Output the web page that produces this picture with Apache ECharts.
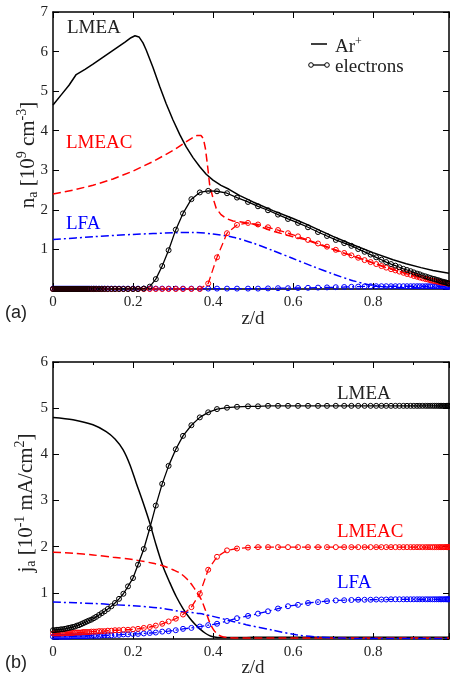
<!DOCTYPE html>
<html>
<head>
<meta charset="utf-8">
<script src="https://cdn.jsdelivr.net/npm/echarts@6/dist/echarts.min.js"></script>
<style>html,body{margin:0;padding:0;background:#fff;}#c{width:450px;height:677px;}</style>
</head>
<body>
<div id="c"></div>
<script>
// ---------- DATA ----------
// x tick labels
const xTicks = ['0', '0.2', '0.4', '0.6', '0.8'];
const yTicksTop = ['1', '2', '3', '4', '5', '6', '7'];
const yTicksBot = ['1', '2', '3', '4', '5', '6'];

// mesh points where electron values are marked (z/d)
const gridZ = [0, 0.005, 0.01, 0.015, 0.02, 0.025, 0.03, 0.035, 0.04, 0.045,
  0.05, 0.055, 0.06, 0.065, 0.07, 0.075, 0.08, 0.085, 0.09, 0.096,
  0.102, 0.108, 0.115, 0.122, 0.129, 0.137, 0.146, 0.155, 0.165, 0.176,
  0.1875, 0.2, 0.2125, 0.227, 0.242, 0.257, 0.273, 0.289, 0.307, 0.325,
  0.346, 0.367, 0.388, 0.41, 0.435, 0.46, 0.4875, 0.5125, 0.5375, 0.5625,
  0.5875, 0.6125, 0.6375, 0.6625, 0.685, 0.707, 0.728, 0.746, 0.763, 0.779,
  0.794, 0.808, 0.821, 0.833, 0.845, 0.856, 0.866, 0.876, 0.885, 0.894,
  0.902, 0.91, 0.917, 0.924, 0.931, 0.937, 0.943, 0.949, 0.954, 0.959,
  0.964, 0.968, 0.972, 0.976, 0.98, 0.983, 0.986, 0.988, 0.99];

// (a) electron densities [1e9 cm^-3]
const neLMEA = [0, 0, 0, 0, 0, 0, 0, 0, 0, 0,
  0, 0, 0, 0, 0, 0, 0, 0, 0, 0,
  0, 0, 0, 0, 0, 0, 0, 0, 0, 0,
  0, 0, 0, 0.01, 0.06, 0.25, 0.58, 0.98, 1.5, 1.91,
  2.27, 2.44, 2.48, 2.47, 2.42, 2.31, 2.2, 2.09, 1.99, 1.88,
  1.77, 1.67, 1.56, 1.44, 1.34, 1.24, 1.16, 1.09, 1.01, 0.94,
  0.87, 0.8, 0.74, 0.68, 0.63, 0.59, 0.55, 0.51, 0.48, 0.45,
  0.42, 0.39, 0.37, 0.34, 0.32, 0.3, 0.28, 0.26, 0.25, 0.23,
  0.22, 0.2, 0.19, 0.18, 0.17, 0.16, 0.15, 0.14, 0.14];
const neLMEAC = [0, 0, 0, 0, 0, 0, 0, 0, 0, 0,
  0, 0, 0, 0, 0, 0, 0, 0, 0, 0,
  0, 0, 0, 0, 0, 0, 0, 0, 0, 0,
  0, 0, 0, 0, 0, 0, 0, 0, 0, 0,
  0, 0, 0.14, 0.8, 1.41, 1.62, 1.67, 1.63, 1.56, 1.49,
  1.41, 1.33, 1.24, 1.15, 1.07, 0.99, 0.91, 0.85, 0.79, 0.73,
  0.68, 0.63, 0.58, 0.54, 0.5, 0.47, 0.44, 0.41, 0.38, 0.36,
  0.33, 0.31, 0.29, 0.27, 0.25, 0.24, 0.22, 0.21, 0.2, 0.19,
  0.18, 0.17, 0.16, 0.16, 0.15, 0.15, 0.14, 0.14, 0.14];
const neLFA = [0.01, 0.01, 0.01, 0.01, 0.01, 0.01, 0.01, 0.01, 0.01, 0.01,
  0.01, 0.01, 0.01, 0.01, 0.01, 0.01, 0.01, 0.01, 0.01, 0.01,
  0.01, 0.01, 0.01, 0.01, 0.01, 0.01, 0.01, 0.01, 0.01, 0.01,
  0.01, 0.01, 0.01, 0.01, 0.01, 0.01, 0.01, 0.01, 0.01, 0.01,
  0.01, 0.01, 0.01, 0.01, 0.01, 0.01, 0.01, 0.01, 0.015, 0.02,
  0.02, 0.025, 0.03, 0.035, 0.04, 0.045, 0.05, 0.055, 0.06, 0.065,
  0.07, 0.07, 0.07, 0.07, 0.07, 0.07, 0.07, 0.07, 0.07, 0.07,
  0.07, 0.07, 0.07, 0.07, 0.07, 0.07, 0.07, 0.07, 0.07, 0.07,
  0.07, 0.07, 0.065, 0.065, 0.06, 0.06, 0.06, 0.06, 0.06];

// (a) Ar+ densities [1e9 cm^-3]
const zArLMEA = [0, 0.02, 0.04, 0.058, 0.08, 0.1, 0.12, 0.14, 0.16, 0.18, 0.195, 0.205, 0.215, 0.225, 0.233, 0.25, 0.267, 0.283, 0.3, 0.317, 0.333, 0.35, 0.367, 0.383, 0.4, 0.42, 0.44, 0.467, 0.5, 0.55, 0.6, 0.633, 0.667, 0.7, 0.742, 0.8, 0.85, 0.883, 0.92, 0.95, 0.99];
const nArLMEA = [4.65, 4.9, 5.15, 5.42, 5.55, 5.68, 5.82, 5.96, 6.1, 6.24, 6.35, 6.4, 6.37, 6.22, 6.04, 5.6, 5.11, 4.68, 4.27, 3.9, 3.59, 3.32, 3.09, 2.9, 2.75, 2.62, 2.52, 2.36, 2.2, 1.98, 1.78, 1.64, 1.48, 1.33, 1.15, 0.92, 0.74, 0.64, 0.54, 0.47, 0.4];
const zArLMEAC = [0, 0.05, 0.1, 0.15, 0.2, 0.25, 0.3, 0.33, 0.35, 0.36, 0.37, 0.376, 0.381, 0.386, 0.392, 0.4, 0.408, 0.42, 0.433, 0.45, 0.467, 0.5, 0.55, 0.6, 0.633, 0.667, 0.717, 0.742, 0.8, 0.867, 0.92, 0.95, 0.99];
const nArLMEAC = [2.4, 2.5, 2.62, 2.78, 2.98, 3.22, 3.5, 3.7, 3.83, 3.88, 3.88, 3.8, 3.55, 3.15, 2.6, 2.3, 2.04, 1.88, 1.78, 1.72, 1.7, 1.64, 1.46, 1.32, 1.24, 1.12, 0.94, 0.86, 0.66, 0.44, 0.28, 0.2, 0.1];
const zArLFA = [0, 0.1, 0.2, 0.3, 0.35, 0.4, 0.45, 0.5, 0.55, 0.6, 0.65, 0.7, 0.75, 0.8, 0.85, 0.9, 0.99];
const nArLFA = [1.25, 1.32, 1.38, 1.42, 1.43, 1.39, 1.31, 1.16, 0.97, 0.77, 0.57, 0.38, 0.21, 0.09, 0.04, 0.03, 0.02];

// (b) electron current densities [1e-1 mA/cm^2]
const jeLMEA = [0.19, 0.19, 0.2, 0.2, 0.21, 0.21, 0.22, 0.23, 0.24, 0.25,
  0.26, 0.27, 0.29, 0.3, 0.32, 0.34, 0.36, 0.38, 0.4, 0.42,
  0.45, 0.48, 0.52, 0.56, 0.6, 0.65, 0.71, 0.78, 0.87, 0.98,
  1.14, 1.32, 1.61, 1.95, 2.4, 2.89, 3.36, 3.75, 4.11, 4.4,
  4.63, 4.8, 4.91, 4.98, 5.01, 5.03, 5.04, 5.04, 5.05, 5.05,
  5.05, 5.05, 5.05, 5.05, 5.05, 5.05, 5.05, 5.05, 5.05, 5.05,
  5.05, 5.05, 5.05, 5.05, 5.05, 5.05, 5.05, 5.05, 5.05, 5.05,
  5.05, 5.05, 5.05, 5.05, 5.05, 5.05, 5.05, 5.05, 5.05, 5.05,
  5.05, 5.05, 5.05, 5.05, 5.05, 5.05, 5.05, 5.05, 5.05];
const jeLMEAC = [0.12, 0.12, 0.12, 0.12, 0.12, 0.12, 0.13, 0.13, 0.13, 0.13,
  0.13, 0.14, 0.14, 0.14, 0.14, 0.15, 0.15, 0.15, 0.15, 0.16,
  0.16, 0.16, 0.17, 0.17, 0.17, 0.18, 0.18, 0.19, 0.19, 0.2,
  0.2, 0.21, 0.22, 0.24, 0.26, 0.29, 0.33, 0.38, 0.44, 0.53,
  0.69, 0.98, 1.5, 1.78, 1.92, 1.96, 1.98, 1.99, 1.99, 1.99,
  1.99, 1.99, 1.99, 1.99, 1.99, 1.99, 1.99, 1.99, 1.99, 1.99,
  1.99, 1.99, 1.99, 1.99, 1.99, 1.99, 1.99, 1.99, 1.99, 1.99,
  1.99, 1.99, 1.99, 1.99, 1.99, 1.99, 1.99, 1.99, 1.99, 1.99,
  1.99, 1.99, 1.99, 1.99, 1.99, 1.99, 1.99, 1.99, 1.99];
const jeLFA = [0.05, 0.05, 0.05, 0.05, 0.05, 0.05, 0.05, 0.05, 0.05, 0.06,
  0.06, 0.06, 0.06, 0.06, 0.06, 0.06, 0.06, 0.06, 0.07, 0.07,
  0.07, 0.07, 0.07, 0.08, 0.08, 0.08, 0.08, 0.09, 0.09, 0.1,
  0.1, 0.11, 0.11, 0.12, 0.13, 0.14, 0.16, 0.17, 0.19, 0.22,
  0.24, 0.27, 0.3, 0.33, 0.39, 0.45, 0.5, 0.55, 0.6, 0.66,
  0.71, 0.74, 0.78, 0.8, 0.82, 0.835, 0.84, 0.845, 0.85, 0.85,
  0.85, 0.855, 0.855, 0.855, 0.86, 0.86, 0.86, 0.86, 0.86, 0.86,
  0.86, 0.86, 0.86, 0.86, 0.86, 0.86, 0.86, 0.86, 0.86, 0.86,
  0.86, 0.86, 0.86, 0.86, 0.86, 0.86, 0.86, 0.86, 0.86];

// (b) Ar+ current densities [1e-1 mA/cm^2]
const zjArLMEA = [0, 0.05, 0.1, 0.133, 0.155, 0.175, 0.192, 0.208, 0.225, 0.242, 0.258, 0.275, 0.292, 0.308, 0.325, 0.342, 0.355, 0.367, 0.38, 0.39, 0.4, 0.42, 0.45, 0.5, 0.6, 0.8, 0.99];
const jArLMEA = [4.8, 4.75, 4.64, 4.49, 4.33, 4.1, 3.78, 3.38, 2.96, 2.51, 2.03, 1.57, 1.22, 0.92, 0.66, 0.45, 0.32, 0.22, 0.13, 0.08, 0.05, 0.03, 0.03, 0.04, 0.04, 0.04, 0.04];
const zjArLMEAC = [0, 0.05, 0.1, 0.15, 0.2, 0.25, 0.28, 0.3, 0.317, 0.335, 0.35, 0.362, 0.371, 0.38, 0.392, 0.4, 0.408, 0.42, 0.44, 0.5, 0.99];
const jArLMEAC = [1.88, 1.86, 1.82, 1.77, 1.72, 1.64, 1.57, 1.5, 1.43, 1.3, 1.14, 0.98, 0.85, 0.65, 0.35, 0.22, 0.13, 0.06, 0.03, 0.02, 0.02];
const zjArLFA = [0, 0.1, 0.158, 0.2, 0.267, 0.317, 0.367, 0.4, 0.45, 0.483, 0.55, 0.608, 0.667, 0.72, 0.76, 0.99];
const jArLFA = [0.8, 0.77, 0.74, 0.72, 0.67, 0.6, 0.55, 0.49, 0.38, 0.31, 0.19, 0.09, 0.04, 0.02, 0.01, 0.01];

// ---------- CHART ----------
const SERIF = 'Liberation Serif';
const INK = '#222222';
const BLACK = '#000000', RED = '#ff0000', BLUE = '#0000ff';
const DASH = [8, 4];
const DASHDOT = [8, 3, 2, 3];

function pairs(xs, ys) { return xs.map((x, i) => [x, ys[i]]); }

const chart = echarts.init(document.getElementById('c'), null, {renderer: 'canvas'});

function xAxisDef(gi, pos) {
  const bottom = pos === 'bottom';
  return {
    type: 'value', gridIndex: gi, position: pos, min: 0, max: 0.99, interval: 0.2,
    axisLine: {show: true, onZero: false, lineStyle: {color: '#000', width: 1.5}},
    axisTick: {show: true, inside: true, length: 6, lineStyle: {color: '#000', width: 1}},
    minorTick: {show: true, splitNumber: 2, length: 3, lineStyle: {color: '#000', width: 1}},
    splitLine: {show: false},
    axisLabel: {
      show: bottom, showMaxLabel: false, margin: 6, color: INK, fontFamily: SERIF, fontSize: 15,
      formatter: v => { const i = Math.round(v / 0.2); return (Math.abs(v - i * 0.2) < 1e-6 && i < xTicks.length) ? xTicks[i] : ''; }
    }
  };
}
function yAxisDef(gi, pos, maxV, labels) {
  const left = pos === 'left';
  return {
    type: 'value', gridIndex: gi, position: pos, min: 0, max: maxV, interval: 1,
    axisLine: {show: true, onZero: false, lineStyle: {color: '#000', width: 1.5}},
    axisTick: {show: true, inside: true, length: 6, lineStyle: {color: '#000', width: 1}},
    splitLine: {show: false},
    axisLabel: {
      show: left, margin: 5, color: INK, fontFamily: SERIF, fontSize: 15,
      formatter: v => (v >= 1 && v <= labels.length) ? labels[v - 1] : ''
    }
  };
}

function lineSeries(name, xi, yi, data, color, type, smooth) {
  return {name: name, type: 'line', xAxisIndex: xi, yAxisIndex: yi, data: data, symbol: 'none',
    smooth: smooth || false,
    lineStyle: {color: color, width: 1.5, type: type}, silent: true, animation: false, z: 3};
}
function markSeries(name, xi, yi, data, color, type) {
  return {name: name, type: 'line', xAxisIndex: xi, yAxisIndex: yi, data: data,
    symbol: 'circle', symbolSize: 5, showSymbol: true, showAllSymbol: true,
    itemStyle: {color: 'rgba(255,255,255,0)', borderColor: color, borderWidth: 1},
    lineStyle: {color: color, width: 1.3, type: type}, silent: true, animation: false, z: 4};
}

const rich = {
  b: {fontFamily: SERIF, fontSize: 21, lineHeight: 25, verticalAlign: 'middle', fill: INK},
  sub: {fontFamily: SERIF, fontSize: 14, lineHeight: 14, verticalAlign: 'bottom', fill: INK},
  sup: {fontFamily: SERIF, fontSize: 14, lineHeight: 14, verticalAlign: 'top', fill: INK}
};

function label(text, x, y, color) {
  return {type: 'text', x: x, y: y, silent: true,
    style: {text: text, fill: color, font: '19px "Liberation Serif"', textAlign: 'left', textVerticalAlign: 'middle'}};
}

const option = {
  backgroundColor: '#ffffff',
  animation: false,
  grid: [
    {left: 53, top: 12, width: 396, height: 277},
    {left: 53, top: 362, width: 396, height: 277}
  ],
  xAxis: [xAxisDef(0, 'bottom'), xAxisDef(0, 'top'), xAxisDef(1, 'bottom'), xAxisDef(1, 'top')],
  yAxis: [yAxisDef(0, 'left', 7, yTicksTop), yAxisDef(0, 'right', 7, yTicksTop),
          yAxisDef(1, 'left', 6, yTicksBot), yAxisDef(1, 'right', 6, yTicksBot)],
  series: [
    // (a)
    lineSeries('aArLMEA', 0, 0, pairs(zArLMEA, nArLMEA), BLACK, 'solid'),
    lineSeries('aArLMEAC', 0, 0, pairs(zArLMEAC, nArLMEAC), RED, DASH),
    lineSeries('aArLFA', 0, 0, pairs(zArLFA, nArLFA), BLUE, DASHDOT, 0.3),
    markSeries('aeLFA', 0, 0, pairs(gridZ, neLFA), BLUE, DASHDOT),
    markSeries('aeLMEAC', 0, 0, pairs(gridZ, neLMEAC), RED, DASH),
    markSeries('aeLMEA', 0, 0, pairs(gridZ, neLMEA), BLACK, 'solid'),
    // (b)
    lineSeries('bArLMEA', 2, 2, pairs(zjArLMEA, jArLMEA), BLACK, 'solid', 0.3),
    lineSeries('bArLMEAC', 2, 2, pairs(zjArLMEAC, jArLMEAC), RED, DASH, 0.3),
    lineSeries('bArLFA', 2, 2, pairs(zjArLFA, jArLFA), BLUE, DASHDOT, 0.3),
    markSeries('beLFA', 2, 2, pairs(gridZ, jeLFA), BLUE, DASHDOT),
    markSeries('beLMEAC', 2, 2, pairs(gridZ, jeLMEAC), RED, DASH),
    markSeries('beLMEA', 2, 2, pairs(gridZ, jeLMEA), BLACK, 'solid')
  ],
  graphic: [
    // curve labels
    label('LMEA', 67, 28, INK),
    label('LMEAC', 66, 143, RED),
    label('LFA', 66, 224, BLUE),
    label('LMEA', 337, 394, INK),
    label('LMEAC', 337, 532, RED),
    label('LFA', 337, 583, BLUE),
    // legend (key)
    {type: 'line', silent: true, shape: {x1: 311, y1: 44, x2: 327, y2: 44}, style: {stroke: '#000', lineWidth: 1.5}},
    {type: 'text', x: 335, y: 47, silent: true,
      style: {text: '{n|Ar}{s|+}', textVerticalAlign: 'middle',
        rich: {n: {fontFamily: SERIF, fontSize: 19, lineHeight: 22, fill: INK}, s: {fontFamily: SERIF, fontSize: 12, lineHeight: 12, verticalAlign: 'top', fill: INK}}}},
    {type: 'line', silent: true, shape: {x1: 311, y1: 65, x2: 327, y2: 65}, style: {stroke: '#000', lineWidth: 1.3}},
    {type: 'circle', silent: true, shape: {cx: 311, cy: 65, r: 2.3}, style: {fill: '#fff', stroke: '#000', lineWidth: 1}},
    {type: 'circle', silent: true, shape: {cx: 327, cy: 65, r: 2.3}, style: {fill: '#fff', stroke: '#000', lineWidth: 1}},
    {type: 'text', x: 335, y: 67, silent: true,
      style: {text: 'electrons', fill: INK, font: '19px "Liberation Serif"', textVerticalAlign: 'middle'}},
    // axis titles
    {type: 'text', x: 253, y: 319, silent: true, style: {text: 'z/d', fill: INK, font: '19px "Liberation Serif"', textAlign: 'center', textVerticalAlign: 'middle'}},
    {type: 'text', x: 253, y: 668, silent: true, style: {text: 'z/d', fill: INK, font: '19px "Liberation Serif"', textAlign: 'center', textVerticalAlign: 'middle'}},
    {type: 'text', x: 5, y: 313, silent: true, style: {text: '(a)', fill: INK, font: '18px "Liberation Sans"', textVerticalAlign: 'middle'}},
    {type: 'text', x: 5, y: 663, silent: true, style: {text: '(b)', fill: INK, font: '18px "Liberation Sans"', textVerticalAlign: 'middle'}},
    {type: 'text', x: 28, y: 155, rotation: Math.PI / 2, silent: true,
      style: {text: '{b|n}{sub|a}{b| [10}{sup|9}{b| cm}{sup|-3}{b|]}', rich: rich, align: 'center', verticalAlign: 'middle'}},
    {type: 'text', x: 26, y: 503, rotation: Math.PI / 2, silent: true,
      style: {text: '{b|j}{sub|a}{b| [10}{sup|-1}{b| mA/cm}{sup|2}{b|]}', rich: rich, align: 'center', verticalAlign: 'middle'}}
  ]
};
chart.setOption(option);
</script>
</body>
</html>
